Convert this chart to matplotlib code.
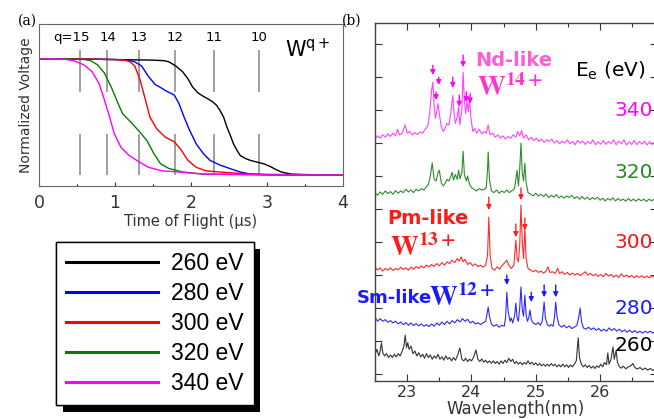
import numpy as np
import matplotlib
matplotlib.use("Agg")
import matplotlib.pyplot as plt
import matplotlib.patheffects as pe
from matplotlib.lines import Line2D

# ---- panel (a): time of flight curves ----
tof_260 = [0, 0.5, 1.0, 1.5, 1.65, 1.71, 1.8, 1.89, 1.96, 2.02, 2.09, 2.16, 2.23, 2.29, 2.34, 2.38, 2.43,
           2.47, 2.52, 2.56, 2.61, 2.65, 2.72, 2.78, 2.87, 2.96, 3.05, 3.12, 3.19, 3.26, 3.32, 3.5, 4.0]
v_260 = [1.0, 1.0, 0.995, 0.99, 0.985, 0.975, 0.94, 0.89, 0.83, 0.76, 0.71, 0.68, 0.655, 0.63, 0.6, 0.56, 0.5,
         0.42, 0.34, 0.27, 0.21, 0.17, 0.145, 0.13, 0.115, 0.1, 0.075, 0.05, 0.03, 0.02, 0.012, 0.008, 0.005]
tof_280 = [0, 0.5, 1.0, 1.17, 1.26, 1.35, 1.44, 1.53, 1.6, 1.66, 1.72, 1.78, 1.84, 1.91, 1.98, 2.07, 2.16,
           2.25, 2.38, 2.51, 2.65, 2.78, 3.0, 4.0]
v_280 = [1.0, 1.0, 0.995, 0.99, 0.975, 0.94, 0.85, 0.78, 0.755, 0.73, 0.71, 0.69, 0.62, 0.5, 0.39, 0.27, 0.19,
         0.13, 0.09, 0.06, 0.03, 0.012, 0.006, 0.004]
tof_300 = [0, 0.5, 1.0, 1.13, 1.2, 1.26, 1.33, 1.40, 1.46, 1.55, 1.66, 1.78, 1.87, 1.96, 2.07, 2.20, 2.38,
           2.60, 3.0, 4.0]
v_300 = [1.0, 1.0, 0.995, 0.99, 0.975, 0.94, 0.82, 0.65, 0.5, 0.4, 0.33, 0.29, 0.22, 0.13, 0.07, 0.04, 0.03,
         0.02, 0.01, 0.005]
tof_320 = [0, 0.4, 0.6, 0.68, 0.77, 0.86, 0.95, 1.02, 1.10, 1.22, 1.33, 1.42, 1.51, 1.60, 1.71, 1.89, 2.16,
           3.0, 4.0]
v_320 = [1.0, 1.0, 0.995, 0.985, 0.95, 0.88, 0.76, 0.65, 0.53, 0.45, 0.37, 0.3, 0.19, 0.1, 0.06, 0.03, 0.012,
         0.006, 0.004]
tof_340 = [0, 0.3, 0.46, 0.59, 0.70, 0.79, 0.86, 0.93, 0.99, 1.08, 1.19, 1.31, 1.44, 1.62, 1.84, 2.16, 3.0, 4.0]
v_340 = [1.0, 1.0, 0.985, 0.95, 0.89, 0.79, 0.65, 0.5, 0.36, 0.24, 0.17, 0.12, 0.07, 0.04, 0.03, 0.012,
         0.006, 0.004]

energies = ['260 eV', '280 eV', '300 eV', '320 eV', '340 eV']
colors_a = ['black', 'blue', 'red', 'green', 'magenta']

q_pos = [0.54, 0.90, 1.32, 1.79, 2.30, 2.90]
q_text_x = [0.43, 0.91, 1.32, 1.79, 2.30, 2.90]
q_labels = ['q=15', '14', '13', '12', '11', '10']

# ---- panel (b): spectra (wavelength nm, offset intensity) ----
spec_340 = [
    (22.50, 7.12), (22.54, 7.22), (22.58, 7.15), (22.62, 7.25), (22.66, 7.18), (22.70, 7.28), (22.74, 7.2),
    (22.78, 7.3), (22.82, 7.22), (22.85, 7.42), (22.88, 7.25), (22.92, 7.3), (22.97, 7.55), (23.00, 7.3),
    (23.04, 7.35), (23.08, 7.25), (23.12, 7.32), (23.16, 7.26), (23.20, 7.34), (23.24, 7.3), (23.28, 7.42),
    (23.32, 7.5), (23.35, 7.9), (23.38, 8.6), (23.40, 8.85), (23.42, 8.1), (23.44, 7.75), (23.46, 7.95),
    (23.48, 8.2), (23.50, 7.9), (23.53, 7.5), (23.56, 7.35), (23.59, 7.45), (23.62, 7.6), (23.65, 7.55),
    (23.68, 7.95), (23.71, 8.45), (23.73, 7.9), (23.75, 7.6), (23.78, 7.8), (23.80, 8.1), (23.82, 7.55),
    (23.85, 8.0), (23.87, 9.15), (23.89, 8.3), (23.91, 7.9), (23.93, 8.25), (23.95, 7.95), (23.97, 8.3),
    (23.99, 7.8), (24.02, 7.35), (24.05, 7.45), (24.08, 7.3), (24.12, 7.42), (24.16, 7.28), (24.20, 7.35),
    (24.23, 7.3), (24.26, 7.55), (24.29, 7.25), (24.33, 7.3), (24.37, 7.18), (24.41, 7.25), (24.45, 7.15),
    (24.49, 7.22), (24.53, 7.12), (24.57, 7.2), (24.61, 7.15), (24.65, 7.25), (24.69, 7.18), (24.72, 7.35),
    (24.75, 7.22), (24.78, 7.38), (24.81, 7.15), (24.85, 7.25), (24.89, 7.1), (24.93, 7.18), (24.97, 7.08),
    (25.01, 7.15), (25.05, 7.05), (25.09, 7.12), (25.13, 7.02), (25.17, 7.1), (25.21, 7.05), (25.25, 7.12),
    (25.29, 7.0), (25.33, 7.08), (25.37, 6.98), (25.41, 7.06), (25.45, 7.0), (25.49, 7.1), (25.53, 6.98),
    (25.57, 7.05), (25.61, 6.95), (25.65, 7.08), (25.69, 7.0), (25.73, 7.06), (25.77, 6.96), (25.81, 7.05),
    (25.85, 6.98), (25.89, 7.1), (25.93, 6.95), (25.97, 7.04), (26.01, 6.97), (26.05, 7.08), (26.09, 6.96),
    (26.13, 7.05), (26.17, 6.98), (26.21, 7.1), (26.25, 6.95), (26.29, 7.06), (26.33, 6.98), (26.37, 7.1),
    (26.41, 6.94), (26.45, 7.04), (26.49, 6.96), (26.53, 7.08), (26.57, 6.95), (26.61, 7.05), (26.65, 6.97),
    (26.69, 7.06), (26.73, 6.94), (26.77, 7.05), (26.81, 6.96), (26.85, 7.04), (26.89, 6.98)]

spec_320 = [
    (22.50, 5.5), (22.54, 5.42), (22.58, 5.52), (22.62, 5.45), (22.66, 5.55), (22.70, 5.47), (22.74, 5.53),
    (22.78, 5.45), (22.82, 5.56), (22.86, 5.48), (22.90, 5.55), (22.94, 5.5), (22.98, 5.6), (23.02, 5.52),
    (23.06, 5.58), (23.10, 5.5), (23.14, 5.6), (23.18, 5.55), (23.22, 5.62), (23.26, 5.58), (23.30, 5.68),
    (23.33, 5.75), (23.36, 6.0), (23.39, 6.4), (23.42, 5.9), (23.45, 5.85), (23.48, 6.1), (23.50, 6.18),
    (23.53, 5.8), (23.56, 5.7), (23.59, 5.78), (23.62, 5.9), (23.65, 5.85), (23.68, 6.0), (23.70, 6.12),
    (23.72, 5.88), (23.75, 6.05), (23.78, 5.9), (23.80, 6.18), (23.82, 5.92), (23.85, 6.1), (23.87, 6.75),
    (23.89, 6.05), (23.92, 5.85), (23.94, 6.0), (23.97, 5.75), (24.00, 5.65), (24.04, 5.6), (24.08, 5.55),
    (24.12, 5.62), (24.16, 5.58), (24.20, 5.6), (24.23, 5.65), (24.25, 6.2), (24.26, 6.73), (24.28, 5.9),
    (24.31, 5.55), (24.35, 5.5), (24.39, 5.58), (24.43, 5.48), (24.47, 5.55), (24.51, 5.5), (24.55, 5.58),
    (24.59, 5.5), (24.63, 5.56), (24.67, 5.62), (24.69, 5.9), (24.71, 6.18), (24.73, 5.7), (24.75, 6.2),
    (24.77, 7.0), (24.79, 6.1), (24.81, 5.85), (24.83, 6.39), (24.85, 5.8), (24.88, 5.5), (24.92, 5.45),
    (24.96, 5.4), (25.00, 5.48), (25.04, 5.4), (25.08, 5.45), (25.12, 5.38), (25.16, 5.46), (25.20, 5.35),
    (25.24, 5.42), (25.28, 5.36), (25.32, 5.44), (25.36, 5.34), (25.40, 5.4), (25.44, 5.33), (25.48, 5.4),
    (25.52, 5.35), (25.56, 5.42), (25.60, 5.32), (25.64, 5.38), (25.68, 5.3), (25.72, 5.38), (25.76, 5.3),
    (25.80, 5.36), (25.84, 5.28), (25.88, 5.35), (25.92, 5.3), (25.96, 5.36), (26.00, 5.27), (26.04, 5.33),
    (26.08, 5.25), (26.12, 5.32), (26.16, 5.27), (26.20, 5.34), (26.24, 5.25), (26.28, 5.32), (26.32, 5.26),
    (26.36, 5.3), (26.40, 5.24), (26.44, 5.32), (26.48, 5.25), (26.52, 5.3), (26.56, 5.24), (26.60, 5.31),
    (26.64, 5.25), (26.68, 5.3), (26.72, 5.23), (26.76, 5.3), (26.80, 5.25), (26.84, 5.3), (26.89, 5.26)]

spec_300 = [
    (22.50, 3.25), (22.54, 3.15), (22.58, 3.22), (22.62, 3.12), (22.66, 3.2), (22.70, 3.15), (22.74, 3.22),
    (22.78, 3.14), (22.82, 3.2), (22.86, 3.16), (22.90, 3.24), (22.94, 3.17), (22.98, 3.22), (23.02, 3.15),
    (23.06, 3.24), (23.10, 3.18), (23.14, 3.26), (23.18, 3.2), (23.22, 3.28), (23.26, 3.22), (23.30, 3.3),
    (23.34, 3.25), (23.38, 3.32), (23.42, 3.26), (23.46, 3.35), (23.50, 3.28), (23.54, 3.38), (23.58, 3.3),
    (23.62, 3.4), (23.66, 3.35), (23.70, 3.45), (23.74, 3.38), (23.78, 3.5), (23.81, 3.42), (23.84, 3.55),
    (23.87, 3.4), (23.90, 3.48), (23.94, 3.32), (23.98, 3.38), (24.02, 3.28), (24.06, 3.34), (24.10, 3.26),
    (24.14, 3.3), (24.18, 3.24), (24.22, 3.3), (24.25, 3.6), (24.27, 4.76), (24.29, 3.6), (24.32, 3.2),
    (24.36, 3.15), (24.40, 3.25), (24.44, 3.18), (24.48, 3.3), (24.52, 3.38), (24.55, 3.45), (24.58, 3.3),
    (24.62, 3.2), (24.66, 3.3), (24.69, 4.06), (24.71, 3.5), (24.73, 3.4), (24.75, 3.9), (24.77, 5.12),
    (24.79, 4.0), (24.81, 3.5), (24.83, 4.42), (24.85, 3.5), (24.88, 3.2), (24.92, 3.15), (24.96, 3.1),
    (25.00, 3.15), (25.04, 3.08), (25.08, 3.12), (25.12, 3.06), (25.16, 3.12), (25.19, 3.25), (25.22, 3.08),
    (25.26, 3.1), (25.30, 3.05), (25.34, 3.2), (25.37, 3.05), (25.41, 3.1), (25.45, 3.02), (25.49, 3.08),
    (25.53, 3.0), (25.57, 3.06), (25.61, 3.0), (25.65, 3.05), (25.69, 2.98), (25.73, 3.04), (25.77, 3.1),
    (25.81, 3.0), (25.85, 3.05), (25.89, 2.98), (25.93, 3.03), (25.97, 2.96), (26.01, 3.02), (26.05, 2.95),
    (26.09, 3.05), (26.13, 2.97), (26.17, 3.02), (26.21, 2.94), (26.25, 3.0), (26.29, 2.93), (26.33, 3.04),
    (26.37, 2.95), (26.41, 3.0), (26.45, 2.93), (26.49, 2.99), (26.53, 2.92), (26.57, 2.98), (26.61, 2.93),
    (26.65, 2.98), (26.69, 2.92), (26.73, 2.97), (26.77, 2.92), (26.81, 2.98), (26.85, 2.93), (26.89, 2.96)]

spec_280 = [
    (22.50, 1.72), (22.54, 1.6), (22.58, 1.68), (22.62, 1.6), (22.66, 1.65), (22.70, 1.57), (22.74, 1.62),
    (22.78, 1.55), (22.82, 1.6), (22.86, 1.52), (22.90, 1.58), (22.94, 1.5), (22.98, 1.56), (23.02, 1.48),
    (23.06, 1.55), (23.10, 1.47), (23.14, 1.53), (23.18, 1.46), (23.22, 1.52), (23.26, 1.45), (23.30, 1.5),
    (23.34, 1.44), (23.38, 1.52), (23.42, 1.45), (23.46, 1.55), (23.50, 1.48), (23.54, 1.58), (23.58, 1.5),
    (23.62, 1.6), (23.66, 1.52), (23.70, 1.62), (23.74, 1.55), (23.78, 1.65), (23.82, 1.58), (23.86, 1.68),
    (23.90, 1.6), (23.94, 1.66), (23.98, 1.55), (24.02, 1.6), (24.06, 1.52), (24.10, 1.56), (24.14, 1.5),
    (24.18, 1.55), (24.22, 1.6), (24.24, 1.8), (24.26, 2.03), (24.28, 1.75), (24.31, 1.52), (24.35, 1.45),
    (24.39, 1.5), (24.43, 1.42), (24.47, 1.48), (24.51, 1.45), (24.53, 1.7), (24.55, 2.48), (24.57, 1.9),
    (24.60, 1.6), (24.62, 1.7), (24.64, 1.55), (24.67, 1.75), (24.69, 2.15), (24.71, 1.7), (24.73, 1.6),
    (24.75, 2.0), (24.77, 2.64), (24.79, 1.95), (24.81, 1.75), (24.83, 2.39), (24.85, 1.8), (24.87, 1.6),
    (24.89, 1.7), (24.91, 1.94), (24.93, 1.65), (24.96, 1.55), (25.00, 1.5), (25.04, 1.56), (25.07, 1.48),
    (25.10, 1.6), (25.13, 2.18), (25.15, 1.7), (25.18, 1.5), (25.21, 1.45), (25.24, 1.5), (25.27, 1.45),
    (25.29, 1.7), (25.31, 2.18), (25.33, 1.75), (25.36, 1.5), (25.40, 1.42), (25.44, 1.48), (25.48, 1.4),
    (25.52, 1.46), (25.56, 1.38), (25.60, 1.42), (25.64, 1.48), (25.67, 1.75), (25.69, 2.0), (25.71, 1.6),
    (25.74, 1.4), (25.78, 1.36), (25.82, 1.42), (25.86, 1.35), (25.90, 1.4), (25.94, 1.33), (25.98, 1.38),
    (26.02, 1.3), (26.06, 1.36), (26.10, 1.3), (26.14, 1.4), (26.18, 1.32), (26.22, 1.38), (26.26, 1.3),
    (26.30, 1.36), (26.34, 1.28), (26.38, 1.34), (26.42, 1.27), (26.46, 1.33), (26.50, 1.26), (26.54, 1.32),
    (26.58, 1.25), (26.62, 1.3), (26.66, 1.24), (26.70, 1.3), (26.74, 1.25), (26.78, 1.3), (26.82, 1.24),
    (26.86, 1.29), (26.89, 1.26)]

spec_260 = [
    (22.50, 0.6), (22.53, 0.75), (22.56, 0.55), (22.58, 0.7), (22.60, 0.94), (22.62, 0.65), (22.65, 0.55),
    (22.68, 0.62), (22.71, 0.5), (22.74, 0.58), (22.77, 0.5), (22.80, 0.6), (22.83, 0.52), (22.86, 0.62),
    (22.89, 0.55), (22.92, 0.68), (22.95, 0.85), (22.97, 1.18), (22.99, 0.8), (23.01, 0.95), (23.03, 0.75),
    (23.06, 0.85), (23.09, 0.62), (23.12, 0.7), (23.15, 0.55), (23.18, 0.65), (23.21, 0.52), (23.24, 0.6),
    (23.27, 0.48), (23.30, 0.62), (23.33, 0.5), (23.36, 0.58), (23.39, 0.45), (23.42, 0.55), (23.45, 0.48),
    (23.48, 0.6), (23.51, 0.45), (23.54, 0.52), (23.57, 0.42), (23.60, 0.55), (23.63, 0.45), (23.66, 0.5),
    (23.69, 0.4), (23.72, 0.5), (23.75, 0.42), (23.78, 0.55), (23.82, 0.79), (23.85, 0.45), (23.88, 0.4),
    (23.91, 0.48), (23.94, 0.38), (23.97, 0.45), (24.00, 0.4), (24.03, 0.5), (24.07, 0.73), (24.10, 0.45),
    (24.13, 0.38), (24.16, 0.46), (24.19, 0.36), (24.22, 0.42), (24.25, 0.34), (24.28, 0.4), (24.31, 0.33),
    (24.34, 0.4), (24.37, 0.32), (24.40, 0.38), (24.43, 0.3), (24.46, 0.4), (24.49, 0.32), (24.52, 0.42),
    (24.55, 0.35), (24.58, 0.48), (24.61, 0.38), (24.64, 0.45), (24.67, 0.32), (24.70, 0.38), (24.73, 0.3),
    (24.76, 0.36), (24.79, 0.28), (24.82, 0.35), (24.85, 0.3), (24.88, 0.4), (24.91, 0.3), (24.94, 0.36),
    (24.97, 0.28), (25.00, 0.34), (25.03, 0.26), (25.06, 0.32), (25.09, 0.25), (25.12, 0.3), (25.15, 0.24),
    (25.18, 0.3), (25.21, 0.24), (25.24, 0.32), (25.27, 0.25), (25.30, 0.3), (25.33, 0.22), (25.36, 0.28),
    (25.39, 0.22), (25.42, 0.3), (25.45, 0.22), (25.48, 0.28), (25.51, 0.2), (25.54, 0.28), (25.57, 0.22),
    (25.60, 0.3), (25.63, 0.4), (25.66, 1.1), (25.68, 0.5), (25.71, 0.3), (25.74, 0.22), (25.77, 0.28),
    (25.80, 0.2), (25.83, 0.26), (25.86, 0.18), (25.89, 0.24), (25.92, 0.17), (25.95, 0.25), (25.98, 0.2),
    (26.01, 0.3), (26.04, 0.22), (26.07, 0.35), (26.10, 0.28), (26.12, 0.64), (26.14, 0.3), (26.17, 0.45),
    (26.20, 0.82), (26.22, 0.45), (26.25, 0.72), (26.27, 0.35), (26.30, 0.22), (26.33, 0.18), (26.36, 0.24),
    (26.40, 0.16), (26.44, 0.22), (26.48, 0.25), (26.51, 0.32), (26.54, 0.2), (26.58, 0.15), (26.62, 0.2),
    (26.66, 0.13), (26.70, 0.18), (26.74, 0.12), (26.78, 0.17), (26.82, 0.11), (26.86, 0.16), (26.89, 0.12)]

colors_b = ['#333333', '#2a2aff', '#ff2a2a', '#2e8b2e', '#ff44ff']
text_colors_b = ['black', '#1a1aff', '#ff1010', '#228b22', '#ff00ff']
label_b = ['260', '280', '300', '320', '340']
label_b_y = [0.88, 2.0, 4.0, 6.12, 8.0]

# arrows: (wavelength, tail y, tip y)
arrows_nd = [(23.40, 9.36, 9.06), (23.49, 9.0, 8.76), (23.45, 8.55, 8.3), (23.71, 9.0, 8.67),
             (23.81, 8.45, 8.1), (23.87, 9.67, 9.3), (23.92, 8.55, 8.24), (23.98, 8.5, 8.2)]
arrows_pm = [(24.27, 5.36, 4.97), (24.77, 5.64, 5.27), (24.69, 4.55, 4.15), (24.83, 4.73, 4.36)]
arrows_sm = [(24.55, 3.0, 2.7), (24.93, 2.48, 2.18), (25.13, 2.7, 2.33), (25.31, 2.7, 2.33)]

W, H = 654, 419


def box(x0, y0, x1, y1):
    return [x0 / W, 1 - y1 / H, (x1 - x0) / W, (y1 - y0) / H]


fig = plt.figure(figsize=(6.54, 4.19), dpi=100)

# ---------------- panel (a) ----------------
ax1 = fig.add_axes(box(39, 24, 343, 186))
curves = [(tof_260, v_260), (tof_280, v_280), (tof_300, v_300), (tof_320, v_320), (tof_340, v_340)]
handles = []
for (t, v), c, lab in zip(curves, colors_a, energies):
    ax1.plot(t, v, color=c, lw=1.0)
    handles.append(Line2D([], [], color=c, lw=2.2, label=lab))
ax1.vlines(q_pos, 0.72, 1.075, color='#999999', lw=1.3, zorder=0)
ax1.vlines(q_pos, 0.006, 0.36, color='#999999', lw=1.3, zorder=0)
for xq, lab in zip(q_text_x, q_labels):
    ax1.text(xq, 1.18, lab, ha='center', va='center', fontsize=9.5)
ax1.text(3.54, 1.08, r'W$^{\mathrm{q+}}$', ha='center', va='center', fontsize=15)
ax1.set_xlim(0, 4)
ax1.set_ylim(-0.09, 1.30)
ax1.set_yticks([])
ax1.set_xticks([0, 1, 2, 3, 4])
ax1.set_xticks([0.5, 1.5, 2.5, 3.5], minor=True)
ax1.tick_params(axis='x', direction='in', length=3, width=0.8, labelsize=12.5, pad=6, colors='#333333')
ax1.tick_params(axis='x', which='minor', direction='in', length=1.5, width=0.8)
for s in ax1.spines.values():
    s.set_color('#666666')
    s.set_linewidth(0.8)
ax1.set_ylabel('Normalized Voltage', fontsize=10, color='#333333', labelpad=4)
ax1.set_xlabel('Time of Flight (\u03bcs)', fontsize=10.5, color='#333333', labelpad=1)
fig.text(27 / W, 1 - 21 / H, '(a)', fontsize=10, family='DejaVu Serif', ha='center', va='center')

leg = fig.legend(handles=handles, loc='upper left', bbox_to_anchor=(56 / W, 1 - 242 / H),
                 borderaxespad=0, frameon=True, fancybox=False, edgecolor='black', facecolor='white',
                 framealpha=1.0, prop={'family': 'Liberation Sans', 'size': 16.5}, handlelength=4.0,
                 handletextpad=0.55, borderpad=0.45, labelspacing=0.3)
leg.get_frame().set_linewidth(1.0)
leg.get_frame().set_path_effects([pe.withSimplePatchShadow(offset=(5, -5), shadow_rgbFace='black', alpha=1.0),
                                  pe.Normal()])

# ---------------- panel (b) ----------------
ax2 = fig.add_axes(box(375, 23, 657, 381))
specs = [spec_260, spec_280, spec_300, spec_320, spec_340]
for sp, c in zip(specs, colors_b):
    arr = np.array(sp)
    ax2.plot(arr[:, 0], arr[:, 1], color=c, lw=0.8)

for arrs, c in [(arrows_nd, '#ff00ff'), (arrows_pm, '#ff2020'), (arrows_sm, '#1a1aff')]:
    for wl, y0, y1 in arrs:
        ax2.annotate('', xy=(wl, y1), xytext=(wl, y0),
                     arrowprops=dict(arrowstyle='-|>', color=c, lw=1.0, mutation_scale=7,
                                     shrinkA=0, shrinkB=0))

for lab, yy, col in zip(label_b, label_b_y, text_colors_b):
    ax2.text(26.23, yy, lab, color=col, fontsize=14.5, ha='left', va='center')
ax2.text(25.61, 9.2, r'E$_{\mathrm{e}}$ (eV)', fontsize=14.5, ha='left', va='center')

ax2.text(24.06, 9.5, 'Nd-like', color='#ff5fd0', fontsize=14, fontweight='bold', ha='left', va='center')
ax2.text(24.08, 8.67, r'$\mathbf{W^{14+}}$', color='#ff33cc', fontsize=20, math_fontfamily='stix',
         ha='left', va='center')
ax2.text(22.69, 4.73, 'Pm-like', color='#ff1a1a', fontsize=14, fontweight='bold', ha='left', va='center')
ax2.text(22.74, 3.82, r'$\mathbf{W^{13+}}$', color='#ff1a1a', fontsize=20, math_fontfamily='stix',
         ha='left', va='center')
ax2.text(22.22, 2.3, 'Sm-like', color='#1a1aff', fontsize=13, fontweight='bold', ha='left', va='center')
ax2.text(23.34, 2.3, r'$\mathbf{W^{12+}}$', color='#1a1aff', fontsize=20, math_fontfamily='stix',
         ha='left', va='center')

ax2.set_xlim(22.5, 26.885)
ax2.set_ylim(-0.21, 10.64)
ax2.set_yticks(range(11))
ax2.set_yticklabels([])
ax2.set_xticks([23, 24, 25, 26])
ax2.set_xticks([22.5, 23.5, 24.5, 25.5, 26.5], minor=True)
ax2.tick_params(which='both', direction='in', top=True, right=True, width=0.8, colors='#333333',
                labelsize=11.5, pad=3)
ax2.tick_params(which='major', length=5)
ax2.tick_params(which='minor', length=3)
for s in ax2.spines.values():
    s.set_color('#444444')
    s.set_linewidth(1.0)
ax2.set_xlabel('Wavelength(nm)', fontsize=12, color='#333333', labelpad=0)
fig.text(352 / W, 1 - 21 / H, '(b)', fontsize=10, family='DejaVu Serif', ha='center', va='center')

fig.savefig('out.png', dpi=100)
